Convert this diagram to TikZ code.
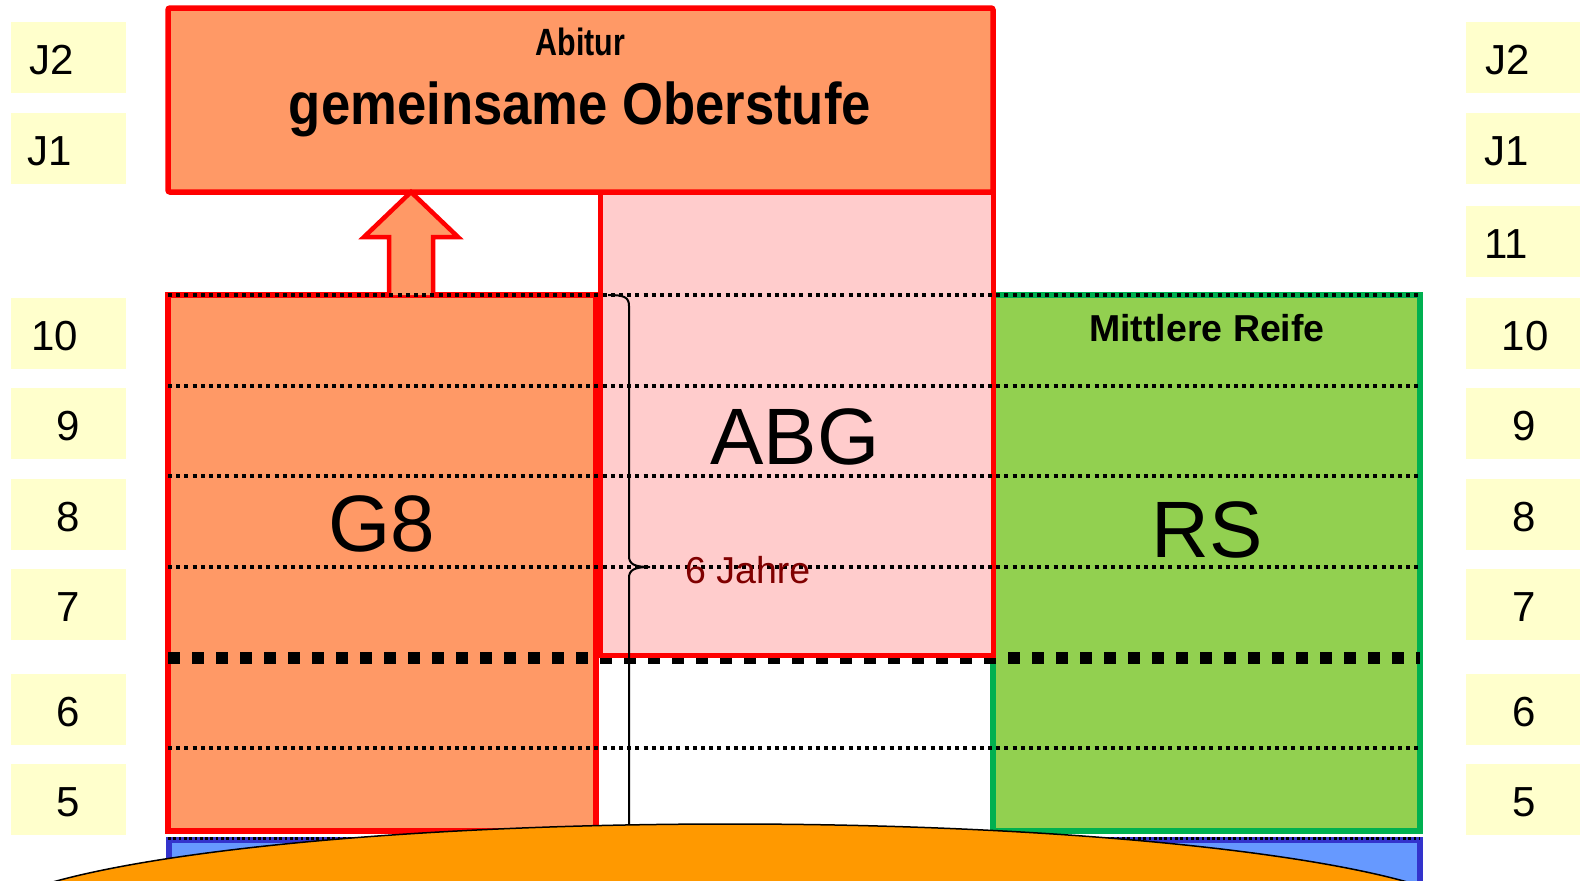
\documentclass[tikz,border=0pt]{standalone}
\usepackage{fontspec}
\setmainfont{Liberation Sans}
\usepackage{graphicx}
\usetikzlibrary{shapes.geometric}
\definecolor{lblyel}{HTML}{FFFFCC}
\definecolor{salmon}{HTML}{FF9966}
\definecolor{pinkabg}{HTML}{FFCCCC}
\definecolor{greenrs}{HTML}{92D050}
\definecolor{greenbd}{HTML}{00B050}
\definecolor{bluefill}{HTML}{6699FF}
\definecolor{bluebd}{HTML}{3333CC}
\definecolor{hillor}{HTML}{FF9900}
\definecolor{jahred}{HTML}{800000}
\definecolor{redbd}{HTML}{FF0000}
\begin{document}
\begin{tikzpicture}[x=1pt,y=-1pt,
  lblbox/.style={fill=lblyel, minimum width=115pt, minimum height=71pt, inner sep=0pt, outer sep=0pt},
  lbltxt/.style={anchor=base, inner sep=0pt, font=\fontsize{42}{50}\selectfont},
  block/.style={inner sep=0pt, outer sep=0pt, line width=5.5pt},
  bigtxt/.style={anchor=base, inner sep=0pt, font=\fontsize{80}{90}\selectfont},
  thindot/.style={line width=3.8pt, dash pattern=on 4pt off 4.2pt},
  thickdash/.style={line width=12pt, dash pattern=on 12pt off 12pt},
  finedot/.style={line width=3pt, dash pattern=on 2.7pt off 2.6pt}]
\useasboundingbox (0,0) rectangle (1580,881);
\clip (0,0) rectangle (1580,881);

% grade labels
\foreach \n/\t/\yc/\lx/\rx in {J2/J2/57.5/51.5/1508, J1/J1/148.5/50/1507, 10/10/333.5/54.5/1525, 9/9/423.5/68/1524, 8/8/514.5/68/1524, 7/7/604.5/68/1524, 6/6/709.5/68/1524, 5/5/799.5/68/1524}{
  \node[lblbox] (L\n) at (68.5,\yc) {};
  \node[lbltxt] (Lt\n) at (\lx,\yc+16.5) {\t};
  \node[lblbox] (R\n) at (1523.5,\yc) {};
  \node[lbltxt] (Rt\n) at (\rx,\yc+16.5) {\t};
}
\node[lblbox] (R11) at (1523.5,241.5) {};
\node[lbltxt] (Rt11) at (1506,258) {11};

% Oberstufe
\node[block, fill=salmon, draw=redbd, rounded corners=2pt, minimum width=825pt, minimum height=184pt] (ober) at (580.5,100) {};

% G8 and RS
\node[block, fill=salmon, draw=redbd, minimum width=428pt, minimum height=536pt] (g8) at (382,563) {};
\node[block, fill=greenrs, draw=greenbd, minimum width=427pt, minimum height=536pt] (rs) at (1206.5,563) {};

% arrow G8 -> Oberstufe
\draw[redbd, line width=4.5pt, fill=salmon, line join=miter]
  (389,295) -- (389,237) -- (364,237) -- (411,192) -- (458,237) -- (433,237) -- (433,295);

% thick dashed line
\draw[thickdash] (168,658) -- (1420,658);

% ABG
\node[block, fill=pinkabg, draw=redbd, line width=5pt, minimum width=393pt, minimum height=463pt] (abg) at (796.5,423.5) {};

% thin dotted lines
\foreach \yy in {295,385.7,476.3,567,748.3}{
  \draw[thindot] (168,\yy) -- (1420,\yy);
}

% brace
\coordinate (bt) at (608,295);
\coordinate (bm) at (650,567);
\coordinate (bb) at (608,839);
\draw[line width=2pt] (bt) .. controls (624,295) and (629,297) .. (629,306) -- (629,556)
  .. controls (629,564) and (634,567) .. (bm)
  .. controls (634,567) and (629,570) .. (629,578) -- (629,828)
  .. controls (629,836) and (624,839) .. (bb);

% blue box
\node[block, fill=bluefill, draw=bluebd, minimum width=1251pt, minimum height=160pt] (blue) at (794.5,920) {};
\draw[finedot] (168,838) -- (1420,838);

% hill
\node[draw=black, line width=1.5pt, fill=hillor, ellipse, minimum width=1510pt, minimum height=208pt, inner sep=0pt] (hill) at (730,928) {};

% texts
\node[anchor=base, inner sep=0pt, font=\bfseries\fontsize{38}{42}\selectfont] (abitur) at (580.5,55) {\scalebox{0.8}[1]{Abitur}};
\node[anchor=base, inner sep=0pt, font=\bfseries\fontsize{59}{64}\selectfont] (gemo) at (580,124) {\scalebox{0.892}[1]{gemeinsame Oberstufe}};
\node[bigtxt] (g8t) at (382,551) {G8};
\node[bigtxt] (abgt) at (795,464) {ABG};
\node[bigtxt] (rst) at (1207,557) {RS};
\node[anchor=base, inner sep=0pt, font=\bfseries\fontsize{37.5}{42}\selectfont] (mr) at (1207,341) {Mittlere Reife};
\node[anchor=base west, inner sep=0pt, text=jahred, font=\fontsize{37.5}{42}\selectfont] (jahre) at (685,583) {6 Jahre};
\end{tikzpicture}
\end{document}
